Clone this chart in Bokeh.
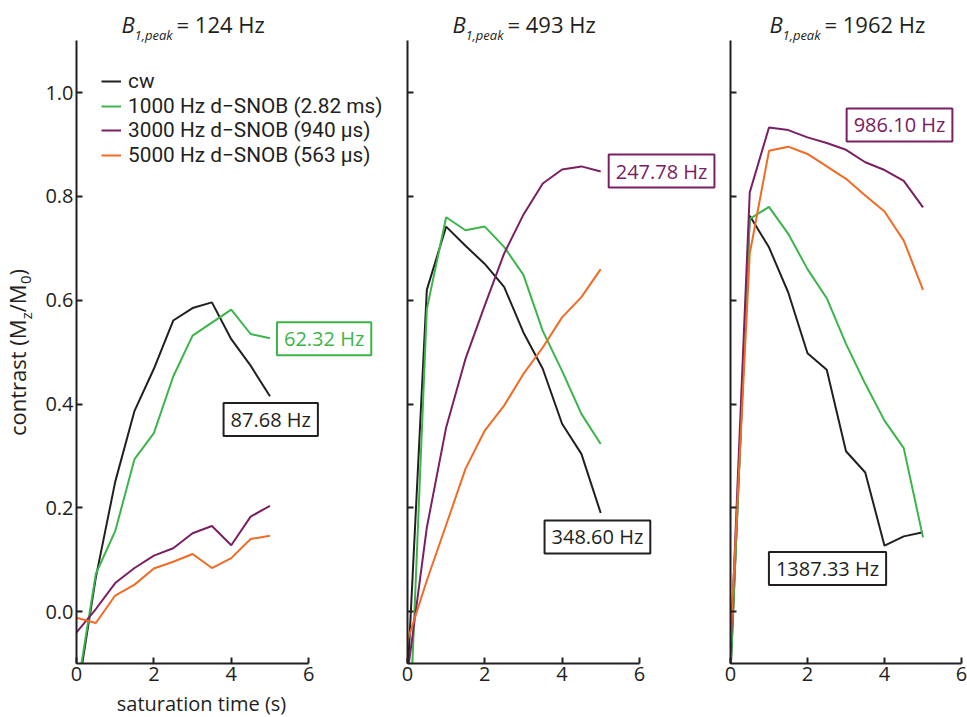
import math
from bokeh.plotting import figure
from bokeh.layouts import row, column
from bokeh.models import (Label, Range1d, FixedTicker, NumeralTickFormatter,
                          CustomJSTickFormatter, Legend, LegendItem)
from bokeh.embed import file_html
from bokeh.resources import INLINE

FONT = "Open Sans"
LEGEND_FONT = "Roboto"   # tighter line box, so the closely spaced rows do not collide
BLACK = "#231f20"
GREEN = "#3bb54a"
PURPLE = "#7a2062"
ORANGE = "#f26a24"

# saturation time (s)
t = [0, 0.5, 1, 1.5, 2, 2.5, 3, 3.5, 4, 4.5, 5]

# B1,peak = 124 Hz
cw_124 = [-0.17, 0.066, 0.25, 0.387, 0.468, 0.561, 0.585, 0.596, 0.525, 0.474, 0.415]
snob1000_124 = [-0.16, 0.073, 0.155, 0.294, 0.344, 0.453, 0.532, 0.557, 0.582, 0.535, 0.527]
snob3000_124 = [-0.04, 0.005, 0.055, 0.084, 0.108, 0.122, 0.151, 0.165, 0.128, 0.183, 0.204]
snob5000_124 = [-0.012, -0.022, 0.031, 0.052, 0.083, 0.096, 0.111, 0.084, 0.103, 0.140, 0.146]

# B1,peak = 493 Hz
cw_493 = [-0.13, 0.62, 0.742, 0.705, 0.67, 0.626, 0.538, 0.468, 0.362, 0.304, 0.19]
snob1000_493 = [-0.33, 0.583, 0.760, 0.735, 0.742, 0.703, 0.649, 0.541, 0.464, 0.381, 0.323]
snob3000_493 = [-0.12, 0.162, 0.355, 0.487, 0.59, 0.69, 0.765, 0.825, 0.852, 0.858, 0.848]
snob5000_493 = [-0.056, 0.06, 0.167, 0.275, 0.349, 0.397, 0.458, 0.509, 0.567, 0.606, 0.66]

# B1,peak = 1962 Hz
cw_1962 = [-0.12, 0.763, 0.702, 0.615, 0.498, 0.466, 0.309, 0.268, 0.127, 0.145, 0.153]
snob1000_1962 = [-0.12, 0.757, 0.780, 0.728, 0.660, 0.604, 0.516, 0.439, 0.368, 0.315, 0.143]
snob3000_1962 = [-0.08, 0.808, 0.933, 0.928, 0.914, 0.903, 0.890, 0.866, 0.851, 0.830, 0.779]
snob5000_1962 = [-0.06, 0.69, 0.888, 0.896, 0.882, 0.858, 0.834, 0.802, 0.771, 0.715, 0.62]

b1_peaks = ["124", "493", "1962"]
series_names = ["cw", "1000 Hz d\u2212SNOB (2.82 ms)", "3000 Hz d\u2212SNOB (940 \u00b5s)",
                "5000 Hz d\u2212SNOB (563 \u00b5s)"]
series_colors = [BLACK, GREEN, PURPLE, ORANGE]

# bandwidth callouts: (text, colour, x, y)
callouts_124 = [("87.68 Hz", BLACK, 5.02, 0.370), ("62.32 Hz", GREEN, 6.40, 0.526)]
callouts_493 = [("247.78 Hz", PURPLE, 6.575, 0.849), ("348.60 Hz", BLACK, 4.915, 0.144)]
callouts_1962 = [("986.10 Hz", PURPLE, 4.39, 0.938), ("1387.33 Hz", BLACK, 2.52, 0.083)]

PANEL_H = 690   # canvas height of the three panels
FRAME_TOP = 4
FRAME_H = 659   # y from -0.1 to 1.17
XLAB_H = 717 - PANEL_H
YLAB_W = 42
PX_PER_Y = FRAME_H / 1.27
BASELINE_DROP = 0.38  # alphabetic labels sit this many em below their anchor


def canvas_to_y(cy, size):
    return (FRAME_TOP + FRAME_H - 0.1 * PX_PER_Y - (cy - BASELINE_DROP * size)) / PX_PER_Y


def style_axes(p, show_ylabels):
    for ax in (p.xaxis[0], p.yaxis[0]):
        ax.axis_line_color = BLACK
        ax.axis_line_width = 2
        ax.major_tick_line_color = BLACK
        ax.major_tick_line_width = 2
        ax.major_tick_in = 6
        ax.major_tick_out = 0
        ax.minor_tick_line_color = None
        ax.major_label_text_font = FONT
        ax.major_label_text_font_size = "20px"
        ax.major_label_text_color = BLACK
    p.xaxis.bounds = (0, 6)
    p.xaxis.ticker = FixedTicker(ticks=[0, 2, 4, 6], minor_ticks=[])
    p.xaxis.major_label_standoff = 3
    p.yaxis.bounds = (-0.1, 1.1)
    p.yaxis.ticker = FixedTicker(ticks=[0, 0.2, 0.4, 0.6, 0.8, 1.0], minor_ticks=[])
    p.yaxis.major_label_standoff = 3
    if show_ylabels:
        p.yaxis.formatter = NumeralTickFormatter(format="0.0")
    else:
        p.yaxis.formatter = CustomJSTickFormatter(code="return ''")


def add_title(p, peak):
    # B_{1,peak} = ... Hz, centred over t = 3
    shift = -5.5 * (len(peak) - 3)
    y_main = canvas_to_y(31.7, 22)
    y_sub = canvas_to_y(39.3, 13)
    p.add_layout(Label(x=3, y=y_main, x_offset=-71 + shift, text="B", text_font=FONT,
                       text_font_size="22px", text_font_style="italic", text_color=BLACK,
                       text_baseline="alphabetic", text_align="left"))
    p.add_layout(Label(x=3, y=y_sub, x_offset=-58 + shift, text="1,peak", text_font=FONT,
                       text_font_size="13px", text_font_style="italic", text_color=BLACK,
                       text_baseline="alphabetic", text_align="left"))
    p.add_layout(Label(x=3, y=y_main, x_offset=-16 + shift, text="= %s Hz" % peak,
                       text_font=FONT, text_font_size="22px", text_color=BLACK,
                       text_baseline="alphabetic", text_align="left"))


def add_callouts(p, callouts):
    for text, color, x, y in callouts:
        p.add_layout(Label(x=x, y=y, text=text, text_font=FONT, text_font_size="20px",
                           text_color=color, text_align="center", text_baseline="middle",
                           border_line_color=color, border_line_width=2,
                           background_fill_color="white",
                           padding=dict(left=7, right=7, top=3, bottom=3)))


def make_panel(peak, series, callouts, width, xmax, left, right):
    p = figure(width=width, height=PANEL_H, x_range=Range1d(0, xmax),
               y_range=Range1d(-0.1, 1.17),
               output_backend="svg", toolbar_location=None,
               min_border_left=left, min_border_right=right,
               min_border_top=FRAME_TOP, min_border_bottom=PANEL_H - FRAME_TOP - FRAME_H)
    p.outline_line_color = None
    p.grid.visible = False
    renderers = [p.line(t, ys, line_color=color, line_width=2)
                 for ys, color in zip(series, series_colors)]
    style_axes(p, left > 20)
    add_title(p, peak)
    add_callouts(p, callouts)
    return p, renderers


def text_strip(width, height, x0, y_top):
    # blank canvas whose data units are the page's pixel coordinates
    f = figure(width=width, height=height, x_range=Range1d(x0, x0 + width),
               y_range=Range1d(y_top + height, y_top), output_backend="svg",
               toolbar_location=None, x_axis_location=None, y_axis_location=None,
               min_border=0)
    f.outline_line_color = None
    f.grid.visible = False
    return f


p1, r1 = make_panel(b1_peaks[0], [cw_124, snob1000_124, snob3000_124, snob5000_124],
                    callouts_124, 401 - YLAB_W, 8.4, 34, 0)
p2, _ = make_panel(b1_peaks[1], [cw_493, snob1000_493, snob3000_493, snob5000_493],
                   callouts_493, 319, 8.1, 6, 0)
p3, _ = make_panel(b1_peaks[2], [cw_1962, snob1000_1962, snob3000_1962, snob5000_1962],
                   callouts_1962, 247, 6.0, 10, 6)

# legend: one entry per row so the rows can sit closer than a default legend allows
row_centres = [81, 105.5, 130, 154.5]
row_h = 24.4
frame_bottom = FRAME_TOP + FRAME_H
for r, name, c in zip(r1, series_names, row_centres):
    lg = Legend(items=[LegendItem(label=name, renderers=[r])],
                location=(25, round(frame_bottom - c - row_h / 2)),
                border_line_color=None, background_fill_alpha=0,
                label_text_font=LEGEND_FONT, label_text_font_size="20.8px",
                label_text_color=BLACK,
                glyph_width=20, glyph_height=20, label_height=20,
                padding=0, margin=0, spacing=0, label_standoff=7)
    p1.add_layout(lg)

# time-axis title under the first panel, centred on its 0..6 axis
xlab = text_strip(967 - YLAB_W, XLAB_H, YLAB_W, PANEL_H)
xlab.add_layout(Label(x=201, y=711 - BASELINE_DROP * 20, text="saturation time (s)",
                      text_font=FONT, text_font_size="20px", text_color=BLACK,
                      text_align="center", text_baseline="alphabetic"))

# contrast-axis title: contrast (M_z/M_0), with z and 0 set as subscripts
ylab = text_strip(YLAB_W, 717, 0, 0)
ylabel_pieces = [("contrast (M", 22, False, 116.7), ("z", 15, True, 7.0),
                 ("/M", 22, False, 28.2), ("0", 15, True, 8.6),
                 (")", 22, False, 6.5)]
total = sum(w for _, _, _, w in ylabel_pieces)
cy = 352 + total / 2
for text, size, sub, w in ylabel_pieces:
    base_x = 31 if sub else 25
    ylab.add_layout(Label(x=base_x - BASELINE_DROP * size, y=cy, text=text, text_font=FONT,
                          text_font_size="%dpx" % size, text_color=BLACK, angle=math.pi / 2,
                          text_align="left", text_baseline="alphabetic"))
    cy -= w

layout = row(ylab, column(row(p1, p2, p3), xlab))
open("out.html", "w").write(file_html(layout, INLINE))
